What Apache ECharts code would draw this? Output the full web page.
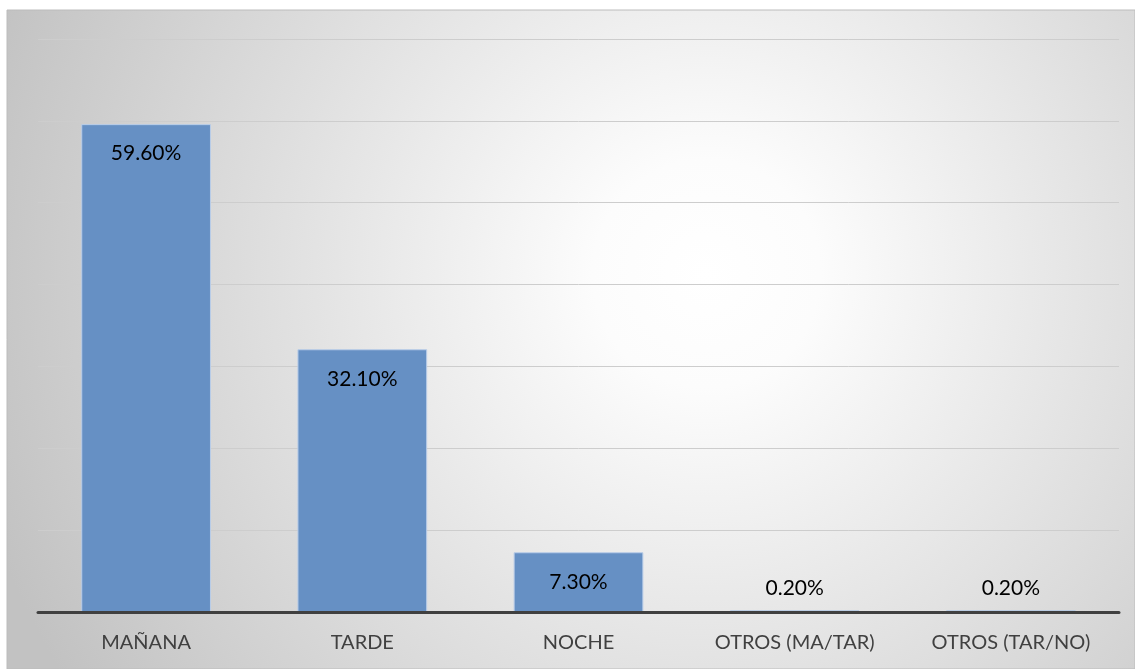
<!DOCTYPE html>
<html>
<head>
<meta charset="utf-8">
<style>
  html, body { margin: 0; padding: 0; background: #ffffff; }
  #chart { width: 1135px; height: 669px; }
</style>
<script src="https://cdn.jsdelivr.net/npm/echarts@6/dist/echarts.min.js"></script>
</head>
<body>
<div id="chart"></div>
<script>
// Turno (jornada) distribution
const categories = ['MAÑANA', 'TARDE', 'NOCHE', 'OTROS (MA/TAR)', 'OTROS (TAR/NO)'];
const shares = [59.6, 32.1, 7.3, 0.2, 0.2];
const yTicks = [0, 10, 20, 30, 40, 50, 60, 70];

const chart = echarts.init(document.getElementById('chart'), null, { renderer: 'canvas' });

const FONT = 'Lato, "Open Sans", sans-serif';

// Bars too short to hold their label get it placed above instead
const barData = shares.map(v => v < 3
  ? { value: v, label: { position: 'top', distance: 12 } }
  : v);

chart.setOption({
  animation: false,
  graphic: [{
    type: 'rect',
    z: -10,
    silent: true,
    shape: { x: 7, y: 10, width: 1128, height: 659 },
    style: {
      fill: new echarts.graphic.RadialGradient(0.62, 0.4, 1.15, [
        { offset: 0, color: '#ffffff' },
        { offset: 0.15, color: '#fcfcfc' },
        { offset: 1, color: '#c2c2c2' }
      ]),
      stroke: '#bcbcbc',
      lineWidth: 1
    }
  }],
  grid: { left: 38, right: 16, top: 39, bottom: 57, containLabel: false },
  xAxis: {
    type: 'category',
    data: categories,
    axisLine: { show: true, lineStyle: { color: '#404040', width: 3 } },
    axisTick: { show: false },
    axisLabel: { color: '#404040', fontFamily: FONT, fontSize: 20, margin: 21 },
    z: 5
  },
  yAxis: {
    type: 'value',
    min: yTicks[0],
    max: yTicks[yTicks.length - 1],
    interval: yTicks[1] - yTicks[0],
    axisLine: { show: false },
    axisTick: { show: false },
    axisLabel: { show: false },
    splitLine: { show: true, lineStyle: { color: '#cdcdcd', width: 1 } }
  },
  series: [{
    type: 'bar',
    data: barData,
    barCategoryGap: '40%',
    itemStyle: { color: '#6690c4', borderColor: '#b9cde8', borderWidth: 1 },
    label: {
      show: true,
      position: 'insideTop',
      distance: 19,
      color: '#000000',
      fontFamily: FONT,
      fontSize: 21,
      formatter: p => p.value.toFixed(2) + '%'
    }
  }]
});
</script>
</body>
</html>
